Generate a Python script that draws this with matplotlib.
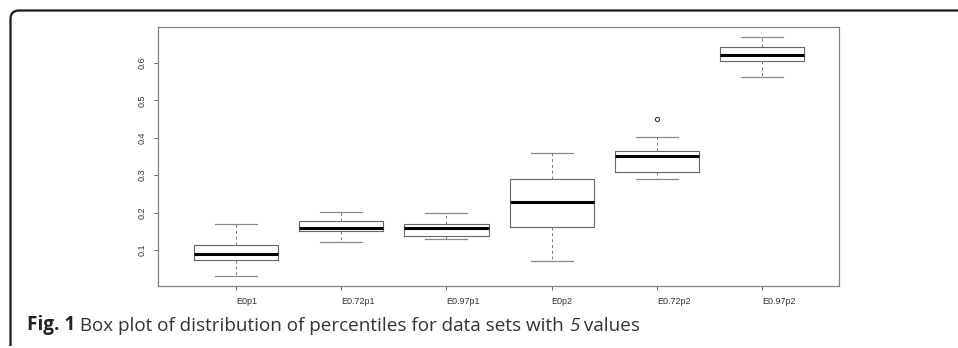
import matplotlib
matplotlib.use('Agg')
import matplotlib.pyplot as plt
from matplotlib.path import Path
from matplotlib.patches import PathPatch

# box statistics
labels = ['E0p1', 'E0.72p1', 'E0.97p1', 'E0p2', 'E0.72p2', 'E0.97p2']
whis_lo = [0.030, 0.121, 0.131, 0.071, 0.289, 0.561]
q1 = [0.075, 0.150, 0.139, 0.161, 0.309, 0.605]
medians = [0.089, 0.159, 0.159, 0.228, 0.352, 0.620]
q3 = [0.114, 0.179, 0.170, 0.289, 0.365, 0.641]
whis_hi = [0.171, 0.201, 0.200, 0.359, 0.401, 0.670]
outliers = [[], [], [], [], [0.450], []]

caption_bold = 'Fig. 1'
caption_text = ' Box plot of distribution of percentiles for data sets with '
caption_italic = '5'
caption_end = ' values'

fig = plt.figure(figsize=(9.58, 3.48), dpi=100)

# outer frame (top and left edges with a rounded corner), in pixel coords
bg = fig.add_axes([0, 0, 1, 1])
bg.set_xlim(0, 958)
bg.set_ylim(348, 0)
bg.axis('off')
verts = [(10.5, 346), (10.5, 19), (10.5, 10.5), (19, 10.5), (958, 10.5)]
codes = [Path.MOVETO, Path.LINETO, Path.CURVE3, Path.CURVE3, Path.LINETO]
bg.add_patch(PathPatch(Path(verts, codes), fill=False, lw=1.6, ec='#1a1a1a'))

ax = fig.add_axes([158 / 958, 1 - 286 / 348, (839 - 158) / 958, (286 - 27) / 348])

stats = []
for i in range(len(labels)):
    stats.append({'label': labels[i], 'whislo': whis_lo[i], 'q1': q1[i], 'med': medians[i],
                  'q3': q3[i], 'whishi': whis_hi[i], 'fliers': outliers[i]})

ax.bxp(stats, positions=range(1, len(labels) + 1), widths=0.8,
       boxprops=dict(color='#666666', lw=0.8),
       medianprops=dict(color='black', lw=2.2, solid_capstyle='butt'),
       whiskerprops=dict(color='#777777', lw=0.7, linestyle=(0, (3, 3))),
       capprops=dict(color='#888888', lw=0.9),
       capwidths=0.4,
       flierprops=dict(marker='o', markersize=3, markerfacecolor='none',
                       markeredgecolor='#333333', markeredgewidth=0.8))

ax.set_xlim(0.26, 6.73)
ax.set_ylim(0.0044, 0.6956)
ax.set_yticks([0.1, 0.2, 0.3, 0.4, 0.5, 0.6])
ax.set_yticklabels(['0.1', '0.2', '0.3', '0.4', '0.5', '0.6'])
ax.set_xticks(range(1, len(labels) + 1))
ax.set_xticklabels(labels)

for side in ['top', 'right', 'left', 'bottom']:
    ax.spines[side].set_color('#808080')
    ax.spines[side].set_linewidth(0.9)

ax.tick_params(axis='both', length=3, width=0.7, color='#666666', pad=5,
               labelsize=6.5, labelcolor='#333333')
for t in ax.get_yticklabels():
    t.set_rotation(90)
    t.set_va('center')
    t.set_family('Liberation Sans')
for t in ax.get_xticklabels():
    t.set_ha('left')
    t.set_family('Liberation Sans')

# caption, pieces placed one after the other
cap_size = 13.6
t1 = fig.text(27 / 958, 1 - 330 / 348, caption_bold, fontsize=cap_size, family='Open Sans',
              weight='bold', color='#222222', va='baseline')
t2 = bg.annotate(caption_text, xy=(1, 0), xycoords=t1, va='bottom', ha='left',
                 fontsize=cap_size, family='Open Sans', color='#333333')
t3 = bg.annotate(caption_italic, xy=(1, 0), xycoords=t2, va='bottom', ha='left',
                 fontsize=cap_size, family='Open Sans', style='italic', color='#333333')
t4 = bg.annotate(caption_end, xy=(1, 0), xycoords=t3, va='bottom', ha='left',
                 fontsize=cap_size, family='Open Sans', color='#333333')

plt.savefig('out.png', dpi=100)
